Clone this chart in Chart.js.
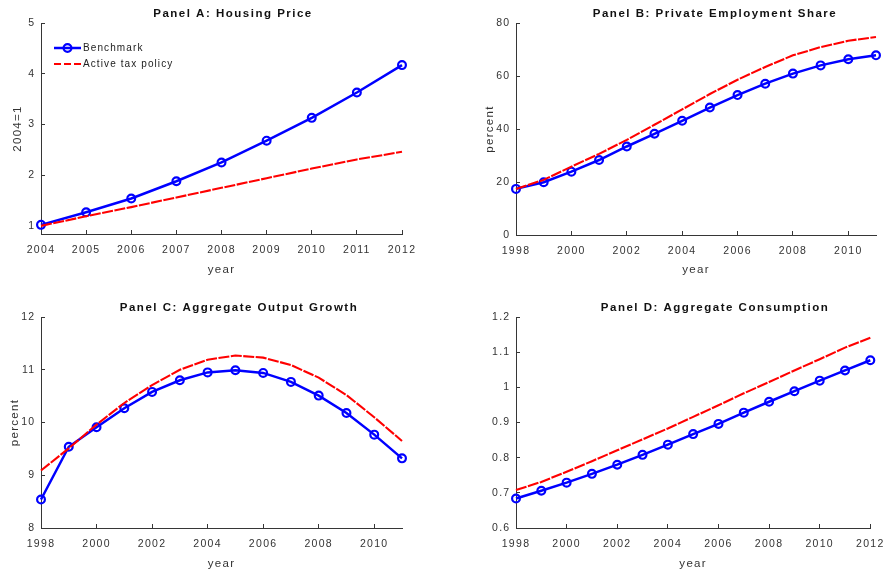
<!DOCTYPE html>
<html>
<head>
<meta charset="utf-8">
<script src="https://cdn.jsdelivr.net/npm/chart.js@4/dist/chart.umd.min.js"></script>
<style>
  html, body { margin: 0; padding: 0; background: #ffffff; }
  #wrap { position: relative; width: 896px; height: 576px; overflow: hidden; }
  .panel { position: absolute; width: 448px; height: 288px; }
  .panel canvas { display: block; }
</style>
</head>
<body>
<div id="wrap">
  <div class="panel" style="left:0;top:0"><canvas id="panelA" width="448" height="288"></canvas></div>
  <div class="panel" style="left:448px;top:0"><canvas id="panelB" width="448" height="288"></canvas></div>
  <div class="panel" style="left:0;top:288px"><canvas id="panelC" width="448" height="288"></canvas></div>
  <div class="panel" style="left:448px;top:288px"><canvas id="panelD" width="448" height="288"></canvas></div>
</div>
<script>
// ---- Panel A: housing price (2004 = 1) ----
const yearsA = [2004, 2005, 2006, 2007, 2008, 2009, 2010, 2011, 2012];
const housingBenchmark = [1.02, 1.27, 1.54, 1.88, 2.25, 2.68, 3.13, 3.63, 4.17];
const housingActiveTax = [1.00, 1.19, 1.37, 1.56, 1.75, 1.94, 2.13, 2.31, 2.46];
const yearTicksA = [2004, 2005, 2006, 2007, 2008, 2009, 2010, 2011, 2012];
const priceTicks = [1, 2, 3, 4, 5];

// ---- Panel B: private employment share (percent) ----
const yearsB = [1998, 1999, 2000, 2001, 2002, 2003, 2004, 2005, 2006, 2007, 2008, 2009, 2010, 2011];
const employmentBenchmark = [17.4, 19.9, 23.9, 28.3, 33.4, 38.2, 43.1, 48.1, 52.8, 57.1, 60.9, 64.0, 66.3, 67.8];
const employmentActiveTax = [17.4, 20.8, 25.8, 30.6, 35.9, 41.6, 47.4, 53.2, 58.6, 63.4, 67.8, 70.9, 73.3, 74.7];
const yearTicksB = [1998, 2000, 2002, 2004, 2006, 2008, 2010];
const employmentTicks = [0, 20, 40, 60, 80];

// ---- Panel C: aggregate output growth (percent) ----
const yearsC = [1998, 1999, 2000, 2001, 2002, 2003, 2004, 2005, 2006, 2007, 2008, 2009, 2010, 2011];
const growthBenchmark = [8.54, 9.54, 9.91, 10.27, 10.58, 10.80, 10.95, 10.99, 10.94, 10.77, 10.51, 10.18, 9.77, 9.32];
const growthActiveTax = [9.09, 9.51, 9.96, 10.37, 10.71, 11.00, 11.19, 11.27, 11.23, 11.09, 10.85, 10.52, 10.10, 9.65];
const yearTicksC = [1998, 2000, 2002, 2004, 2006, 2008, 2010];
const growthTicks = [8, 9, 10, 11, 12];

// ---- Panel D: aggregate consumption ----
const yearsD = [1998, 1999, 2000, 2001, 2002, 2003, 2004, 2005, 2006, 2007, 2008, 2009, 2010, 2011, 2012];
const consumptionBenchmark = [0.684, 0.706, 0.729, 0.754, 0.780, 0.808, 0.837, 0.867, 0.896, 0.928, 0.959, 0.989, 1.019, 1.048, 1.077];
const consumptionActiveTax = [0.708, 0.731, 0.760, 0.790, 0.821, 0.852, 0.883, 0.916, 0.949, 0.983, 1.015, 1.048, 1.080, 1.113, 1.141];
const yearTicksD = [1998, 2000, 2002, 2004, 2006, 2008, 2010, 2012];
const consumptionTicks = [0.6, 0.7, 0.8, 0.9, 1.0, 1.1, 1.2];

const seriesNames = ['Benchmark', 'Active tax policy'];

const FONT = '"Liberation Sans", Arial, Helvetica, sans-serif';
const AXIS_COLOR = '#363636';
const TEXT_COLOR = '#333333';
const W = 448, H = 288;

Chart.defaults.font.family = FONT;
Chart.defaults.color = TEXT_COLOR;

// Wider tracking for all scale text (tick labels and axis titles)
const trackingPlugin = {
  id: 'tracking',
  beforeDraw(chart) { chart.ctx.letterSpacing = '1.3px'; }
};

// Panel heading
const headingPlugin = {
  id: 'heading',
  afterDraw(chart, args, opts) {
    if (!opts.text) return;
    const ctx = chart.ctx;
    ctx.save();
    ctx.font = 'bold 11.5px ' + FONT;
    ctx.letterSpacing = '1.5px';
    ctx.fillStyle = '#111111';
    ctx.textAlign = 'center';
    ctx.textBaseline = 'middle';
    ctx.fillText(opts.text, opts.x, opts.y);
    ctx.restore();
  }
};

// Legend box: line sample with marker, then the series name
const keyPlugin = {
  id: 'key',
  afterDraw(chart, args, opts) {
    if (!opts.display) return;
    const ctx = chart.ctx;
    const area = chart.chartArea;
    const x0 = area.left + opts.offsetX;
    const len = opts.sampleLength;
    chart.data.datasets.forEach((ds, i) => {
      const y = area.top + opts.offsetY + i * opts.rowGap;
      ctx.save();
      ctx.strokeStyle = ds.borderColor;
      ctx.lineWidth = ds.borderWidth;
      ctx.setLineDash(ds.borderDash ? opts.sampleDash : []);
      ctx.beginPath();
      ctx.moveTo(x0, y);
      ctx.lineTo(x0 + len, y);
      ctx.stroke();
      ctx.setLineDash([]);
      if (ds.pointRadius > 0) {
        ctx.lineWidth = ds.pointBorderWidth;
        ctx.strokeStyle = ds.pointBorderColor;
        ctx.beginPath();
        ctx.arc(x0 + len / 2, y, ds.pointRadius, 0, Math.PI * 2);
        ctx.stroke();
      }
      ctx.font = '10px ' + FONT;
      ctx.letterSpacing = '1.1px';
      ctx.fillStyle = '#222222';
      ctx.textAlign = 'left';
      ctx.textBaseline = 'middle';
      ctx.fillText(ds.label, x0 + len + 2, y + 0.5);
      ctx.restore();
    });
  }
};

function tickText(v) {
  return String(Number(Number(v).toFixed(4)));
}

function makePanel(id, p) {
  const titleLine = 11.5 * 1.2;
  return new Chart(document.getElementById(id), {
    type: 'line',
    data: {
      labels: p.years,
      datasets: [
        {
          label: seriesNames[0],
          data: p.benchmark,
          borderColor: '#0000ff',
          borderWidth: 2.5,
          pointRadius: 3.9,
          pointHoverRadius: 3.9,
          pointBorderWidth: 2.2,
          pointBorderColor: '#0000ff',
          pointBackgroundColor: 'rgba(0,0,0,0)',
          tension: 0,
          clip: false,
          order: 1
        },
        {
          label: seriesNames[1],
          data: p.activeTax,
          borderColor: '#ff0000',
          borderWidth: 2.1,
          borderDash: [11, 1.5],
          pointRadius: 0,
          tension: 0,
          clip: false,
          order: 0
        }
      ]
    },
    options: {
      responsive: false,
      animation: false,
      devicePixelRatio: 1,
      events: [],
      layout: {
        padding: { left: 0, top: p.area.top, right: W - p.area.right, bottom: 0 }
      },
      plugins: {
        legend: { display: false },
        tooltip: { enabled: false },
        heading: { text: p.title, x: p.titleX, y: p.titleY },
        key: { display: !!p.key, offsetX: 13, offsetY: 25, rowGap: 16, sampleLength: 27, sampleDash: [7, 3] }
      },
      scales: {
        x: {
          type: 'linear',
          min: p.xMin,
          max: p.xMax,
          afterBuildTicks(scale) { scale.ticks = p.xTicks.map(v => ({ value: v })); },
          afterFit(scale) { scale.height = H - p.area.bottom; },
          ticks: {
            callback: tickText,
            font: { size: 10.5 },
            color: TEXT_COLOR,
            padding: 14,
            maxRotation: 0,
            autoSkip: false
          },
          grid: {
            display: true,
            drawOnChartArea: false,
            drawTicks: true,
            tickLength: -4,
            color: AXIS_COLOR,
            lineWidth: 1
          },
          border: { display: true, color: AXIS_COLOR, width: 1 },
          title: {
            display: true,
            text: 'year',
            font: { size: 11.5 },
            color: TEXT_COLOR,
            padding: { top: 0, bottom: H - titleLine / 2 - p.xTitleY }
          }
        },
        y: {
          type: 'linear',
          min: p.yMin,
          max: p.yMax,
          afterBuildTicks(scale) { scale.ticks = p.yTicks.map(v => ({ value: v })); },
          afterFit(scale) { scale.width = p.area.left; },
          ticks: {
            callback: tickText,
            font: { size: 10.5 },
            color: TEXT_COLOR,
            padding: 9.5,
            autoSkip: false
          },
          grid: {
            display: true,
            drawOnChartArea: false,
            drawTicks: true,
            tickLength: -4,
            color: AXIS_COLOR,
            lineWidth: 1
          },
          border: { display: true, color: AXIS_COLOR, width: 1 },
          title: {
            display: !!p.yTitle,
            text: p.yTitle || '',
            font: { size: 11.5 },
            color: TEXT_COLOR,
            padding: { top: p.yTitleX - titleLine / 2, bottom: 0 }
          }
        }
      }
    },
    plugins: [trackingPlugin, headingPlugin, keyPlugin]
  });
}

makePanel('panelA', {
  years: yearsA, benchmark: housingBenchmark, activeTax: housingActiveTax,
  xMin: 2004, xMax: 2012, xTicks: yearTicksA,
  yMin: 0.84, yMax: 5, yTicks: priceTicks,
  yTitle: '2004=1', yTitleX: 18,
  title: 'Panel A: Housing Price', titleX: 233, titleY: 14,
  area: { left: 41, top: 23, right: 402, bottom: 234 },
  xTitleY: 269.5,
  key: true
});

makePanel('panelB', {
  years: yearsB, benchmark: employmentBenchmark, activeTax: employmentActiveTax,
  xMin: 1998, xMax: 2011, xTicks: yearTicksB,
  yMin: 0, yMax: 80, yTicks: employmentTicks,
  yTitle: 'percent', yTitleX: 42,
  title: 'Panel B: Private Employment Share', titleX: 267, titleY: 14,
  area: { left: 68, top: 23, right: 428, bottom: 235 },
  xTitleY: 270
});

makePanel('panelC', {
  years: yearsC, benchmark: growthBenchmark, activeTax: growthActiveTax,
  xMin: 1998, xMax: 2011, xTicks: yearTicksC,
  yMin: 8, yMax: 12, yTicks: growthTicks,
  yTitle: 'percent', yTitleX: 15,
  title: 'Panel C: Aggregate Output Growth', titleX: 239, titleY: 20,
  area: { left: 41, top: 29, right: 402, bottom: 240 },
  xTitleY: 276
});

makePanel('panelD', {
  years: yearsD, benchmark: consumptionBenchmark, activeTax: consumptionActiveTax,
  xMin: 1998, xMax: 2012, xTicks: yearTicksD,
  yMin: 0.6, yMax: 1.2, yTicks: consumptionTicks,
  yTitle: '', yTitleX: 0,
  title: 'Panel D: Aggregate Consumption', titleX: 267, titleY: 20,
  area: { left: 68, top: 29, right: 429, bottom: 240 },
  xTitleY: 276
});
</script>
</body>
</html>
